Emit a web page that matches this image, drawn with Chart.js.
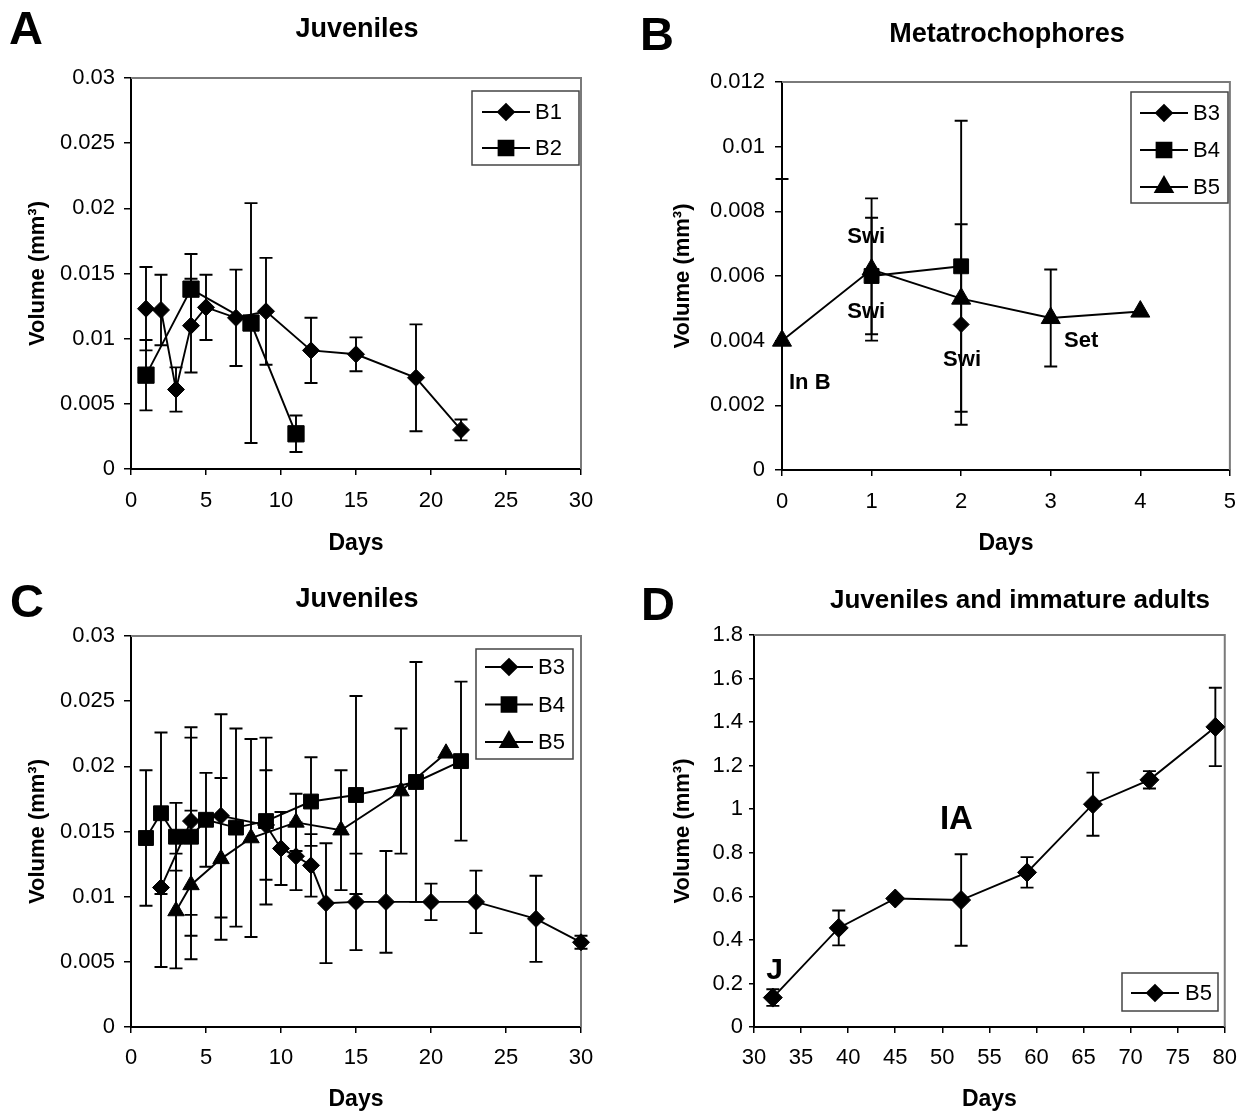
<!DOCTYPE html>
<html>
<head>
<meta charset="utf-8">
<script src="https://cdn.jsdelivr.net/npm/chart.js@4.4.1/dist/chart.umd.min.js"></script>
<style>
  body { margin: 0; background: #fff; }
  #wrap { position: relative; width: 1251px; height: 1113px; overflow: hidden; font-family: "Liberation Sans", Arial, sans-serif; }
  canvas { position: absolute; left: 0; top: 0; }
  .lbl { position: absolute; transform: translate(-50%, -50%); line-height: 1; font-weight: bold; color: #000; white-space: nowrap; }
  .letter { font-size: 47px; }
  .title { font-size: 27px; }
</style>
</head>
<body>
<div id="wrap">
  <canvas id="chartA" width="1251" height="1113"></canvas>
  <canvas id="chartB" width="1251" height="1113"></canvas>
  <canvas id="chartC" width="1251" height="1113"></canvas>
  <canvas id="chartD" width="1251" height="1113"></canvas>
  <div class="lbl letter" style="left:26px;top:27px">A</div>
  <div class="lbl title" style="left:357px;top:28px">Juveniles</div>
  <div class="lbl letter" style="left:657px;top:33px">B</div>
  <div class="lbl title" style="left:1007px;top:33px">Metatrochophores</div>
  <div class="lbl letter" style="left:27px;top:600px">C</div>
  <div class="lbl title" style="left:357px;top:598px">Juveniles</div>
  <div class="lbl letter" style="left:658px;top:603px">D</div>
  <div class="lbl title" style="left:1020px;top:599px;font-size:26px">Juveniles and immature adults</div>
</div>
<script>
// ---- panel A : juveniles, B1 and B2 ----
const daysA_B1 = [1, 2, 3, 4, 5, 7, 9, 12, 15, 19, 22];
const volA_B1 = [0.0123, 0.0122, 0.0061, 0.0110, 0.0124, 0.0116, 0.0121, 0.0091, 0.0088, 0.0070, 0.0030];
const errA_B1 = [0.0032, 0.0027, 0.0017, 0.0036, 0.0025, 0.0037, 0.0041, 0.0025, 0.0013, 0.0041, 0.0008];
const daysA_B2 = [1, 4, 8, 11];
const volA_B2 = [0.0072, 0.0138, 0.0112, 0.0027];
const errA_B2 = [0.0027, 0.0027, 0.0092, 0.0014];
const xLabelsA = ['0', '5', '10', '15', '20', '25', '30'];
const yLabelsA = ['0', '0.005', '0.01', '0.015', '0.02', '0.025', '0.03'];

// ---- panel B : metatrochophores ----
const daysB_B3 = [2];
const volB_B3 = [0.0045];
const errB_B3 = [0.0031];
const daysB_B4 = [1, 2];
const volB_B4 = [0.0060, 0.0063];
const errB_B4 = [0.0018, 0.0045];
const daysB_B5 = [0, 1, 2, 3, 4];
const volB_B5 = [0.0040, 0.0062, 0.0053, 0.0047, 0.0049];
const errB_B5 = [0.0050, 0.0022, 0, 0.0015, 0];
const xLabelsB = ['0', '1', '2', '3', '4', '5'];
const yLabelsB = ['0', '0.002', '0.004', '0.006', '0.008', '0.01', '0.012'];
const notesB = ['In B', 'Swi', 'Swi', 'Swi', 'Set'];
const notesB_x = [0.31, 0.94, 0.94, 2.01, 3.34];
const notesB_y = [0.0027, 0.0072, 0.0049, 0.0034, 0.0040];

// ---- panel C : juveniles, B3 B4 B5 ----
const daysC_B3 = [2, 4, 6, 9, 10, 11, 12, 13, 15, 17, 20, 23, 27, 30];
const volC_B3 = [0.0107, 0.0158, 0.0162, 0.0155, 0.0137, 0.0131, 0.0124, 0.0095, 0.0096, 0.0096, 0.0096, 0.0096, 0.0083, 0.0065];
const errC_B3 = [0.0061, 0.0072, 0.0078, 0.0042, 0.0028, 0.0026, 0.0024, 0.0046, 0.0037, 0.0039, 0.0014, 0.0024, 0.0033, 0.0005];
const daysC_B4 = [1, 2, 3, 4, 5, 7, 9, 12, 15, 19, 22];
const volC_B4 = [0.0145, 0.0164, 0.0146, 0.0146, 0.0159, 0.0153, 0.0158, 0.0173, 0.0178, 0.0188, 0.0204];
const errC_B4 = [0.0052, 0.0062, 0.0026, 0.0076, 0.0036, 0.0076, 0.0064, 0.0034, 0.0076, 0.0092, 0.0061];
const daysC_B5 = [3, 4, 6, 8, 11, 14, 18, 21];
const volC_B5 = [0.0089, 0.0109, 0.0129, 0.0145, 0.0157, 0.0151, 0.0181, 0.0210];
const errC_B5 = [0.0044, 0.0057, 0.0062, 0.0076, 0.0022, 0.0046, 0.0048, 0];
const xLabelsC = ['0', '5', '10', '15', '20', '25', '30'];
const yLabelsC = ['0', '0.005', '0.01', '0.015', '0.02', '0.025', '0.03'];

// ---- panel D : juveniles and immature adults ----
const daysD_B5 = [32, 39, 45, 52, 59, 66, 72, 79];
const volD_B5 = [0.135, 0.455, 0.59, 0.583, 0.71, 1.023, 1.135, 1.378];
const errD_B5 = [0.038, 0.08, 0, 0.21, 0.07, 0.145, 0.04, 0.18];
const xLabelsD = ['30', '35', '40', '45', '50', '55', '60', '65', '70', '75', '80'];
const yLabelsD = ['0', '0.2', '0.4', '0.6', '0.8', '1', '1.2', '1.4', '1.6', '1.8'];
const notesD = ['J', 'IA'];
const notesD_x = [32.2, 51.5];
const notesD_y = [0.26, 0.95];

const FONT = "'Liberation Sans', Arial, sans-serif";
const Y_TITLE = 'Volume (mm³)';

function series(label, xs, ys, errs, style, radius) {
    return {
        label: label,
        data: xs.map((x, i) => ({ x: x, y: ys[i] })),
        errors: errs,
        borderColor: '#000',
        backgroundColor: '#000',
        borderWidth: 1.9,
        pointStyle: style,
        pointRadius: radius,
        pointBorderWidth: 1,
        pointBackgroundColor: '#000',
        pointBorderColor: '#000',
        tension: 0,
        clip: false
    };
}

// plot frame: grey top and right edges, like the spreadsheet plot area
const frame = {
    id: 'frame',
    beforeDatasetsDraw(chart) {
        const { ctx, chartArea: a } = chart;
        ctx.save();
        ctx.strokeStyle = '#7a7a7a';
        ctx.lineWidth = 2;
        ctx.beginPath();
        ctx.moveTo(a.left, a.top);
        ctx.lineTo(a.right, a.top);
        ctx.lineTo(a.right, a.bottom);
        ctx.stroke();
        ctx.restore();
    }
};

const errorBars = {
    id: 'errorBars',
    beforeDatasetsDraw(chart) {
        const { ctx, chartArea: a } = chart;
        const y = chart.scales.y;
        const cap = 6.5;
        ctx.save();
        ctx.beginPath();
        ctx.rect(0, a.top - 1, chart.width, a.bottom - a.top + 2);
        ctx.clip();
        ctx.strokeStyle = '#000';
        ctx.lineWidth = 1.9;
        chart.data.datasets.forEach((ds, i) => {
            const meta = chart.getDatasetMeta(i);
            (ds.errors || []).forEach((e, j) => {
                if (!e) return;
                const px = meta.data[j].x;
                const v = ds.data[j].y;
                const top = y.getPixelForValue(v + e);
                const bot = y.getPixelForValue(v - e);
                ctx.beginPath();
                ctx.moveTo(px, top); ctx.lineTo(px, bot);
                ctx.moveTo(px - cap, top); ctx.lineTo(px + cap, top);
                ctx.moveTo(px - cap, bot); ctx.lineTo(px + cap, bot);
                ctx.stroke();
            });
        });
        ctx.restore();
    }
};

// boxed legend inside the plot area
const boxLegend = {
    id: 'boxLegend',
    afterDatasetsDraw(chart, args, o) {
        const { ctx } = chart;
        ctx.save();
        ctx.fillStyle = '#fff';
        ctx.fillRect(o.x, o.y, o.w, o.h);
        ctx.strokeStyle = '#444';
        ctx.lineWidth = 1.5;
        ctx.strokeRect(o.x, o.y, o.w, o.h);
        chart.data.datasets.forEach((ds, i) => {
            const ry = o.y + o.first + i * o.gap;
            ctx.strokeStyle = '#000';
            ctx.lineWidth = 1.9;
            ctx.beginPath();
            ctx.moveTo(o.x + o.l0, ry);
            ctx.lineTo(o.x + o.l1, ry);
            ctx.stroke();
            ctx.fillStyle = '#000';
            Chart.helpers.drawPoint(ctx, {
                pointStyle: ds.pointStyle,
                radius: o.radius[i],
                borderWidth: 1,
                rotation: 0
            }, o.x + (o.l0 + o.l1) / 2, ry);
            ctx.fill();
            ctx.font = '22px ' + FONT;
            ctx.textAlign = 'left';
            ctx.textBaseline = 'middle';
            ctx.fillText(ds.label, o.x + o.tx, ry + 1);
        });
        ctx.restore();
    }
};

const notes = {
    id: 'notes',
    afterDatasetsDraw(chart, args, o) {
        if (!o.texts) return;
        const { ctx, scales } = chart;
        ctx.save();
        ctx.fillStyle = '#000';
        ctx.textAlign = 'center';
        ctx.textBaseline = 'middle';
        o.texts.forEach((t, i) => {
            const size = o.sizes ? o.sizes[i] : o.size;
            ctx.font = 'bold ' + size + 'px ' + FONT;
            ctx.fillText(t, scales.x.getPixelForValue(o.xs[i]), scales.y.getPixelForValue(o.ys[i]));
        });
        ctx.restore();
    }
};

function makeChart(id, datasets, g, xLabels, yLabels, legend, note) {
    const xVals = xLabels.map(Number);
    const yVals = yLabels.map(Number);
    new Chart(document.getElementById(id), {
        type: 'line',
        data: { datasets: datasets },
        plugins: [frame, errorBars, boxLegend, notes],
        options: {
            responsive: false,
            animation: false,
            events: [],
            layout: { padding: { left: g.left, top: g.top, right: 1251 - g.right, bottom: g.bottomPad } },
            plugins: {
                legend: { display: false },
                tooltip: { enabled: false },
                boxLegend: legend,
                notes: note || {}
            },
            scales: {
                x: {
                    type: 'linear',
                    min: xVals[0],
                    max: xVals[xVals.length - 1],
                    afterBuildTicks: s => { s.ticks = xVals.map(v => ({ value: v })); },
                    afterFit: s => { s.height = g.xh; },
                    ticks: {
                        autoSkip: false, maxRotation: 0, color: '#000', padding: g.xPad,
                        font: { family: FONT, size: 22, lineHeight: 1 },
                        callback: (v, i) => xLabels[i]
                    },
                    grid: { drawOnChartArea: false, drawTicks: true, tickLength: 6, color: '#000', lineWidth: 1.5 },
                    border: { color: '#000', width: 2 },
                    title: {
                        display: true, text: 'Days', color: '#000',
                        font: { family: FONT, size: 23, weight: 'bold', lineHeight: 1 },
                        padding: { top: 0, bottom: g.daysPad }
                    }
                },
                y: {
                    type: 'linear',
                    min: yVals[0],
                    max: yVals[yVals.length - 1],
                    afterBuildTicks: s => { s.ticks = yVals.map(v => ({ value: v })); },
                    afterFit: s => { s.width = g.yw; },
                    ticks: {
                        autoSkip: false, color: '#000', padding: g.yPad,
                        font: { family: FONT, size: 22, lineHeight: 1 },
                        callback: (v, i) => yLabels[i]
                    },
                    grid: { drawOnChartArea: false, drawTicks: true, tickLength: g.ytl, color: '#000', lineWidth: 1.5 },
                    border: { color: '#000', width: 2 },
                    title: {
                        display: true, text: Y_TITLE, color: '#000',
                        font: { family: FONT, size: 22, weight: 'bold', lineHeight: 1 },
                        padding: { top: g.volPad, bottom: 0 }
                    }
                }
            }
        }
    });
}

makeChart('chartA', [
    series('B1', daysA_B1, volA_B1, errA_B1, 'rectRot', 8.5),
    series('B2', daysA_B2, volA_B2, errA_B2, 'rect', 11.5)
], { left: 0, top: 78, right: 581, bottomPad: 553, yw: 131, xh: 91, xPad: 15, yPad: 9, ytl: 7, daysPad: 5, volPad: 27 },
xLabelsA, yLabelsA,
{ x: 472, y: 91, w: 107, h: 74, first: 21, gap: 36, l0: 10, l1: 58, tx: 63, radius: [8, 10.5] });

makeChart('chartB', [
    series('B3', daysB_B3, volB_B3, errB_B3, 'rectRot', 8),
    series('B4', daysB_B4, volB_B4, errB_B4, 'rect', 10.5),
    series('B5', daysB_B5, volB_B5, errB_B5, 'triangle', 11)
], { left: 620, top: 82, right: 1238, bottomPad: 553, yw: 162, xh: 90, xPad: 15, yPad: 10, ytl: 7, daysPad: 5, volPad: 52 },
xLabelsB, yLabelsB,
{ x: 1131, y: 92, w: 97, h: 111, first: 21, gap: 37, l0: 9, l1: 57, tx: 62, radius: [8, 10.5, 10] },
{ texts: notesB, xs: notesB_x, ys: notesB_y, size: 22 });

makeChart('chartC', [
    series('B3', daysC_B3, volC_B3, errC_B3, 'rectRot', 8.5),
    series('B4', daysC_B4, volC_B4, errC_B4, 'rect', 10.5),
    series('B5', daysC_B5, volC_B5, errC_B5, 'triangle', 9.5)
], { left: 0, top: 636, right: 581, bottomPad: 0, yw: 131, xh: 86, xPad: 14, yPad: 9, ytl: 7, daysPad: 2, volPad: 27 },
xLabelsC, yLabelsC,
{ x: 476, y: 649, w: 97, h: 110, first: 18, gap: 37.5, l0: 9, l1: 57, tx: 62, radius: [8, 10.5, 10] });

makeChart('chartD', [
    series('B5', daysD_B5, volD_B5, errD_B5, 'rectRot', 9.5)
], { left: 620, top: 635, right: 1230, bottomPad: 0, yw: 134, xh: 86, xPad: 14, yPad: 6, ytl: 5, daysPad: 2, volPad: 52 },
xLabelsD, yLabelsD,
{ x: 1122, y: 973, w: 96, h: 38, first: 20, gap: 0, l0: 9, l1: 57, tx: 63, radius: [8] },
{ texts: notesD, xs: notesD_x, ys: notesD_y, size: 30, sizes: [30, 33] });
</script>
</body>
</html>
